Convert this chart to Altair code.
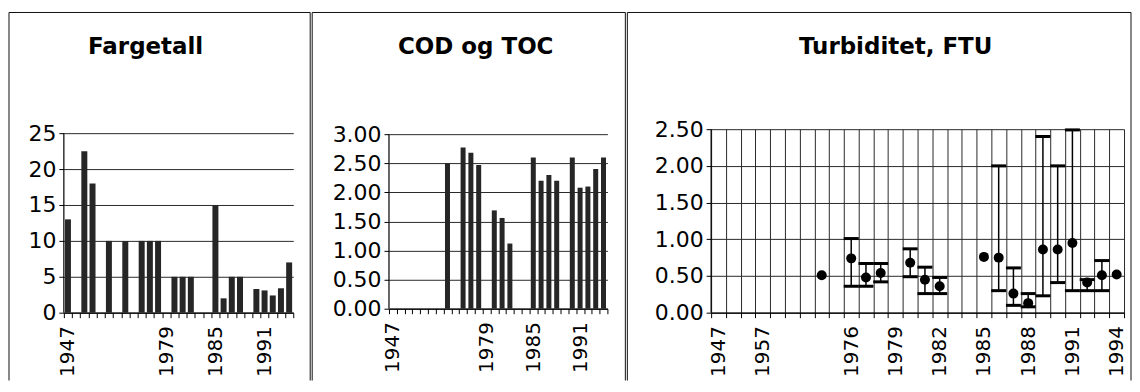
import altair as alt
import pandas as pd

FONT = "DejaVu Sans"
INK = "#111111"
BAR = "#262626"

# ---- categories (28 slots, only some labelled) ----
cats = list(range(28))
labels_bars = ["1947", "", "", "", "", "", "", "", "", "", "", "", "1979", "", "", "", "", "",
               "1985", "", "", "", "", "", "1991", "", "", ""]
labels_turb = ["1947", "", "", "1957", "", "", "", "", "", "1976", "", "", "1979", "", "",
               "1982", "", "", "1985", "", "", "1988", "", "", "1991", "", "", "1994"]

# ---- Fargetall ----
farge_idx = [0, 2, 3, 5, 7, 9, 10, 11, 13, 14, 15, 18, 19, 20, 21, 23, 24, 25, 26, 27]
farge_val = [13, 22.5, 18, 10, 10, 10, 10, 10, 5, 5, 5, 15, 2, 5, 5, 3.3, 3.1, 2.4, 3.4, 7]
farge_ticks = [0, 5, 10, 15, 20, 25]

# ---- COD og TOC ----
cod_idx = [7, 9, 10, 11, 13, 14, 15, 18, 19, 20, 21, 23, 24, 25, 26, 27]
cod_val = [2.50, 2.77, 2.68, 2.47, 1.69, 1.56, 1.12, 2.60, 2.20, 2.30, 2.20, 2.60, 2.08, 2.10, 2.40, 2.60]
cod_ticks = [0, 0.5, 1, 1.5, 2, 2.5, 3]

# ---- Turbiditet ----
turb_idx = [7, 9, 10, 11, 13, 14, 15, 18, 19, 20, 21, 22, 23, 24, 25, 26, 27]
turb_mid = [0.51, 0.74, 0.48, 0.54, 0.68, 0.45, 0.36, 0.76, 0.75, 0.26, 0.13, 0.86, 0.86, 0.95, 0.41, 0.51, 0.52]
turb_low = [None, 0.36, 0.36, 0.42, 0.49, 0.26, 0.26, None, 0.30, 0.10, 0.08, 0.23, 0.41, 0.30, 0.30, 0.30, None]
turb_high = [None, 1.01, 0.67, 0.67, 0.87, 0.62, 0.48, None, 2.00, 0.61, 0.26, 2.40, 2.00, 2.49, 0.45, 0.71, None]
turb_ticks = [0, 0.5, 1, 1.5, 2, 2.5]

titles = ["Fargetall", "COD og TOC", "Turbiditet, FTU"]


def label_expr(labels):
    return "[" + ",".join("'%s'" % s for s in labels) + "][datum.value]"


def x_enc(labels, grid=False):
    return alt.X(
        "i:O",
        scale=alt.Scale(domain=cats, paddingInner=0, paddingOuter=0),
        axis=alt.Axis(title=None, labelExpr=label_expr(labels), labelAngle=-90,
                      labelOverlap=False, tickBand="extent", grid=grid, tickSize=5,
                      labelPadding=8, labelFontSize=20),
    )


def y_parts(dom_top, tick_vals, fmt):
    scale = alt.Scale(domain=[0, dom_top], nice=False, zero=True)
    axis = alt.Axis(title=None, values=tick_vals, format=fmt, grid=True, tickSize=5,
                    labelPadding=3, labelFontSize=22, labelOverlap=False, domain=False)
    return scale, axis


def y_enc(field, parts):
    scale, axis = parts
    return alt.Y(field, scale=scale, axis=axis)


def y_line(top_val, parts):
    scale, axis = parts
    one = alt.Data(values=[{"k": 0}])
    return alt.Chart(one).mark_rule(color="#000", strokeWidth=1.2).encode(
        x=alt.value(0),
        y=alt.YDatum(0, scale=scale, axis=axis),
        y2=alt.Y2Datum(top_val))


def frame(left, right, top, bottom, title, tx, ty):
    one = alt.Data(values=[{"k": 0}])
    base = alt.Chart(one)
    return [
        base.mark_rule(color=INK, strokeWidth=1).encode(
            x=alt.value(left), y=alt.value(top), y2=alt.value(bottom)),
        base.mark_rule(color=INK, strokeWidth=1).encode(
            x=alt.value(right), y=alt.value(top), y2=alt.value(bottom)),
        base.mark_rule(color=INK, strokeWidth=1).encode(
            x=alt.value(left), x2=alt.value(right), y=alt.value(top)),
        base.mark_text(text=title, font=FONT, fontSize=23, fontWeight="bold",
                       align="center", baseline="alphabetic", color="#000").encode(
            x=alt.value(tx), y=alt.value(ty)),
    ]


# common plot top at y=128; border top at y=11, title baseline at y=53
TOP_REL = -117
TITLE_REL = -75

# Panel 1 (axis x=63, 0 at y=312, 25 at y=132)
p1 = y_parts(25.56, farge_ticks, "d")
df1 = pd.DataFrame({"i": farge_idx, "v": farge_val})
bars1 = alt.Chart(df1).mark_bar(width=6, color=BAR).encode(
    x=x_enc(labels_bars), y=y_enc("v:Q", p1))
panel1 = alt.layer(bars1, y_line(25, p1),
                   *frame(-55, 247, TOP_REL, 252, titles[0], 82, TITLE_REL)).properties(
    width=230, height=184)

# Panel 2 (axis x=388, 0 at y=308, 3 at y=133)
p2 = y_parts(3.086, cod_ticks, ".2f")
df2 = pd.DataFrame({"i": cod_idx, "v": cod_val})
bars2 = alt.Chart(df2).mark_bar(width=5, color=BAR).encode(
    x=x_enc(labels_bars), y=y_enc("v:Q", p2))
panel2 = alt.layer(bars2, y_line(3, p2),
                   *frame(-77, 237, TOP_REL, 252, titles[1], 87, TITLE_REL)).properties(
    width=219, height=180)

# Panel 3 (axis x=710, 0 at y=312, 2.5 at y=128)
p3 = y_parts(2.5, turb_ticks, ".2f")
df3 = pd.DataFrame({"i": turb_idx, "m": turb_mid, "lo": turb_low, "hi": turb_high})
base3 = alt.Chart(df3)
xs3 = x_enc(labels_turb, grid=True)
rng = base3.transform_filter("isValid(datum.lo)")
whisk = rng.mark_rule(color="#000", strokeWidth=1.5).encode(
    x=xs3, y=y_enc("lo:Q", p3), y2="hi:Q")
cap_hi = rng.mark_tick(color="#000", opacity=1, size=15, thickness=3).encode(
    x=xs3, y=y_enc("hi:Q", p3))
cap_lo = rng.mark_tick(color="#000", opacity=1, size=15, thickness=3).encode(
    x=xs3, y=y_enc("lo:Q", p3))
dots = base3.mark_circle(color="#000", opacity=1, size=100).encode(
    x=xs3, y=y_enc("m:Q", p3))
panel3 = alt.layer(dots, whisk, cap_hi, cap_lo, y_line(2.5, p3),
                   *frame(-84, 421, TOP_REL, 252, titles[2], 185, TITLE_REL)).properties(
    width=414, height=184)

chart = alt.hconcat(panel1, panel2, panel3, spacing=0).properties(
    padding={"left": 0, "top": 3, "right": 0, "bottom": 0}
).configure_axis(
    labelFont=FONT, labelColor="#000", domainColor="#000", tickColor="#000",
    gridColor="#2a2a2a", gridWidth=1, domainWidth=1.2, tickWidth=1,
).configure_view(strokeWidth=0)

chart.save("out.html", embed_options={"renderer": "svg", "actions": False})
